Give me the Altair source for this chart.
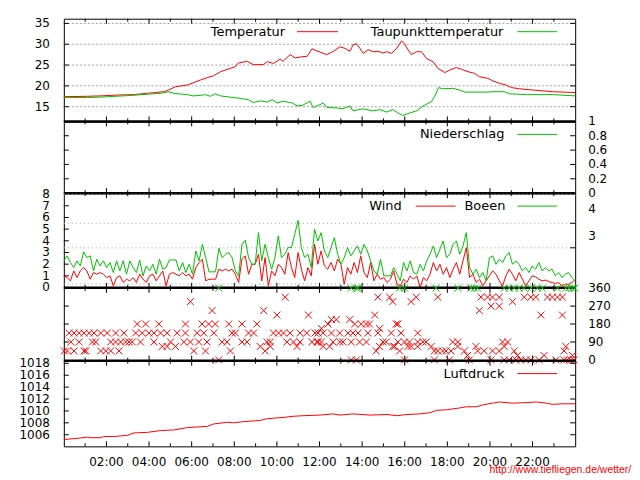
import altair as alt
import pandas as pd

# ---------------- data ----------------
temp_h = [0, 1.12, 1.73, 2.53, 3.28, 4.07, 4.68, 4.91, 5.24, 5.8, 6.41, 6.74, 7.02, 7.35, 7.81,
          8.05, 8.19, 8.61, 8.89, 9.36, 9.55, 9.83, 10.15, 10.29, 10.62, 10.86, 11.18, 11.42, 11.65,
          11.93, 12.34, 12.65, 12.96, 13.2, 13.43, 13.58, 13.74, 13.9, 14.05, 14.29, 14.52, 14.75,
          14.99, 15.15, 15.38, 15.62, 15.85, 16.0, 16.16, 16.32, 16.55, 16.79, 17.02, 17.33, 17.56,
          17.88, 18.11, 18.42, 18.66, 18.97, 19.28, 19.51, 19.9, 20.14, 20.45, 20.76, 21.0, 21.39,
          22.01, 22.94, 24.0]
temp_v = [17.4, 17.5, 17.6, 17.8, 17.9, 18.3, 18.6, 19.0, 19.8, 20.2, 21.4, 22.0, 22.4, 23.4, 24.2,
          24.6, 25.5, 25.9, 25.1, 25.1, 25.8, 25.4, 26.4, 25.9, 27.5, 26.7, 27.0, 27.1, 28.9,
          28.3, 27.5, 28.3, 29.4, 29.0, 28.3, 29.9, 30.1, 29.0, 27.8, 28.7, 28.2, 28.3,
          27.9, 28.2, 27.8, 29.0, 30.8, 30.1, 28.6, 27.5, 28.2, 28.2, 26.6, 25.8, 24.2,
          23.2, 23.8, 24.4, 24.0, 23.4, 23.0, 22.2, 21.8, 21.2, 20.6, 20.2, 19.6, 19.3,
          19.0, 18.6, 18.4]
dew_h = [0, 1.12, 1.73, 3.14, 3.92, 4.54, 4.93, 5.15, 5.79, 6.08, 6.41, 6.64, 6.88, 7.11, 7.35,
         7.95, 8.28, 8.66, 8.89, 9.22, 9.55, 9.78, 10.01, 10.29, 10.72, 10.95, 11.18, 11.42, 11.56,
         11.7, 11.93, 12.03, 12.17, 12.35, 12.82, 13.1, 13.43, 13.57, 14.04, 14.51, 14.83, 15.16,
         15.44, 15.68, 15.91, 16.24, 16.57, 16.85, 17.27, 17.41, 17.59, 17.78, 18.25, 18.58, 18.81,
         19.84, 20.12, 20.68, 20.92, 21.71, 22.93, 24.0]
dew_v = [17.2, 17.2, 17.3, 17.7, 18.0, 18.2, 18.6, 18.2, 17.9, 17.6, 17.7, 17.9, 17.5, 18.1, 17.6,
         17.2, 17.0, 16.7, 16.0, 16.4, 16.1, 16.7, 15.9, 16.3, 15.9, 15.2, 15.3, 15.9, 16.3,
         14.8, 15.3, 15.5, 15.9, 14.8, 14.7, 14.5, 15.2, 14.0, 14.5, 14.0, 14.3, 13.7,
         14.3, 13.5, 12.9, 13.5, 14.0, 15.1, 16.3, 17.5, 19.6, 19.3, 19.4, 19.0, 18.5,
         18.5, 18.6, 18.6, 18.1, 17.9, 17.9, 17.6]

# wind and gusts (m/s), regular samples over the day
wind_v = [1.0, 0.85, 0.57, 1.42, 0.85, 1.42, 1.71, 1.42, 0.71, 1.28,
          1.14, 1.28, 1.14, 0.85, 1.0, 0.14, 0.85, 1.0, 0.43, 0.71,
          0.57, 0.85, 0.43, 1.14, 0.71, 0.43, 1.0, 1.14, 0.57, 1.0,
          1.42, 0.14, 1.14, 1.28, 1.14, 1.0, 1.28, 1.0, 1.14, 0.71,
          1.71, 2.14, 2.42, 0.57, 0.71, 0.71, 0.71, 1.57, 1.42, 1.57,
          1.42, 1.57, 1.14, 0.43, 2.42, 2.71, 1.14, 1.99, 1.99, 2.85,
          0.57, 2.56, 0.14, 1.42, 1.0, 1.99, 1.71, 1.14, 2.99, 1.71,
          0.85, 2.99, 1.57, 0.57, 1.71, 1.0, 3.7, 1.99,
          3.13, 1.85, 1.57, 2.14, 1.42, 2.42, 1.99, 0.28, 1.71, 1.14,
          2.14, 1.28, 2.71, 1.28, 0.85, 2.14, 0.57, 1.14, 0.71, 0.85,
          0.43, 0.71, 1.42, 0.28, 0.14, 0.71, 0.43, 1.0, 0.71, 1.0,
          0.0, 0.85, 0.57, 1.14, 2.14, 1.42, 1.99, 1.14, 1.71, 0.85,
          1.57, 2.14, 1.14, 2.28, 3.42, 0.85, 1.14, 0.43, 0.71, 0.14,
          0.57, 1.0, 1.42, 1.14, 0.57, 0.14, 1.0, 1.57, 1.14, 0.57,
          1.28, 0.71, 0.14, 0.57, 1.0, 0.91, 0.71, 0.57, 0.63, 0.51,
          0.43, 0.34, 0.43, 0.14, 0.28, 0.28, 0.43, 0.63]
gust_v = [2.28, 2.71, 2.14, 1.71, 2.28, 1.85, 3.05, 2.56, 2.71, 1.42,
          2.42, 1.85, 2.28, 1.71, 2.14, 1.28, 2.28, 1.42, 2.28, 1.14,
          2.28, 1.71, 1.28, 2.34, 1.0, 1.85, 1.42, 1.99, 1.14, 2.42,
          1.57, 1.71, 2.36, 2.36, 2.36, 1.42, 2.14, 1.28, 1.99, 1.14,
          3.13, 2.28, 3.7, 2.56, 1.34, 1.34, 1.34, 3.36, 2.56, 2.85,
          2.99, 2.56, 1.42, 1.0, 3.7, 4.05, 2.56, 1.99, 1.99, 4.7,
          2.28, 3.7, 2.56, 1.57, 2.56, 4.42, 2.56, 2.85, 3.42, 3.42,
          4.56, 5.75, 3.42, 2.56, 2.85, 1.71, 4.99, 3.99,
          4.7, 3.13, 2.56, 3.42, 4.27, 2.85, 1.99, 2.56, 3.42, 2.71,
          3.13, 3.56, 2.85, 3.7, 3.13, 2.28, 1.42, 1.14, 2.42, 1.0,
          1.0, 1.0, 1.71, 1.14, 0.57, 2.14, 1.42, 2.28, 1.28, 1.14,
          1.99, 1.42, 2.28, 2.85, 3.56, 2.56, 3.28, 3.99, 2.56, 2.85,
          3.7, 3.99, 2.85, 3.56, 4.7, 1.71, 1.14, 1.57, 0.85, 1.28,
          0.57, 2.56, 2.71, 1.99, 2.42, 2.14, 2.71, 2.99, 1.99, 2.28,
          1.99, 1.42, 1.71, 1.28, 1.85, 1.57, 2.14, 1.42, 1.71, 1.42,
          1.57, 1.0, 1.28, 0.85, 1.14, 1.28, 0.85, 0.57]
wind_h = [round(i * 24 / (len(wind_v) - 1), 3) for i in range(len(wind_v))]

press_h = [0, 0.66, 1.12, 1.26, 1.73, 1.87, 2.34, 2.99, 3.28, 3.93, 4.54, 5.15, 5.8, 6.74, 7.02,
           7.67, 7.95, 8.42, 9.22, 9.55, 10.29, 10.76, 11.23, 12.03, 12.63, 12.96, 13.57, 14.37,
           15.16, 15.63, 16.1, 16.71, 17.18, 17.5, 17.97, 18.58, 18.9, 19.37, 19.65, 20.12, 20.45,
           21.06, 21.71, 22.18, 22.65, 22.93, 23.4, 24.0]
press_v = [1005.2, 1005.4, 1005.6, 1005.5, 1005.5, 1005.7, 1005.7, 1005.9, 1006.3, 1006.4, 1006.7,
           1006.8, 1007.2, 1007.4, 1007.8, 1008.1, 1008.0, 1008.2, 1008.4, 1008.7, 1008.9, 1009.1,
           1009.2, 1009.3, 1009.5, 1009.3, 1009.5, 1009.3, 1009.4, 1009.2, 1009.4, 1009.5, 1009.7,
           1010.1, 1010.2, 1010.5, 1010.7, 1010.7, 1011.0, 1011.3, 1011.5, 1011.3, 1011.4, 1011.5,
           1011.3, 1011.1, 1011.2, 1011.2]

# wind direction samples (hours) grouped by direction in degrees
dir_000 = [7.27, 13.49, 13.73, 15.99, 17.39, 18.1, 19.03, 20.05, 20.67, 20.9, 21.22, 21.45, 21.68,
           21.92, 22.31, 23.09, 23.48, 23.63, 23.79, 23.95]
dir_022 = [18.95, 21.29, 22.54, 23.87]
dir_045 = [0.02, 0.17, 0.48, 0.95, 1.03, 1.73, 1.97, 2.2, 2.59, 6.1, 6.65, 7.82, 9.45,
           14.66, 15.76, 17.39, 17.55, 17.78, 17.94, 18.17, 18.8, 19.42, 19.73, 20.12, 20.44,
           21.14, 23.48]
dir_067 = [4.62, 4.85, 5.24, 9.22, 9.69, 10.94, 12.17, 12.48, 14.82, 15.44, 15.52, 16.15, 16.3,
           16.61, 17.24, 18.49, 19.34, 20.67, 23.56]
dir_090 = [0.33, 0.72, 1.34, 1.5, 2.2, 2.43, 2.67, 2.9, 3.06, 3.21, 3.6, 4.23, 5.01, 5.63, 5.94,
           6.33, 6.72, 7.43, 7.66, 8.36, 8.6, 9.53, 9.69, 10.47, 10.78, 11.09, 11.64, 11.87,
           11.93, 12.09, 12.64, 12.95, 13.1, 13.49, 13.88, 14.2, 14.98, 15.13, 15.68, 15.99,
           16.22, 16.61, 16.85, 17.0, 18.25, 18.49, 20.59, 20.83]
dir_135 = [0.25, 0.48, 0.72, 0.95, 1.19, 1.42, 1.73, 2.04, 2.43, 2.82, 3.37, 3.68, 3.99, 4.23,
           4.54, 4.85, 5.32, 5.71, 6.26, 6.57, 7.04, 7.89, 8.05, 8.67, 8.91, 9.84, 10.08, 10.31,
           10.62, 11.09, 11.4, 11.79, 11.93, 12.17, 12.56, 12.95, 13.34, 13.57, 13.81, 14.27,
           14.74, 15.37, 15.83, 16.61]
dir_157 = [12.09, 14.82]
dir_180 = [3.45, 3.84, 4.46, 5.71, 6.49, 6.8, 7.11, 7.74, 8.36, 9.06, 12.4, 13.65, 13.96, 14.2,
           14.35, 15.6, 15.68]
dir_202 = [12.56, 12.79, 13.42]
dir_225 = [10.0, 11.48, 14.59, 22.39, 23.4]
dir_247 = [6.96, 9.38, 19.5]
dir_270 = [20.05, 20.44]
dir_292 = [5.94, 15.44, 16.3, 21.06]
dir_315 = [10.39, 14.74, 15.29, 16.54, 17.55, 19.58, 19.89, 20.12, 20.44, 21.61, 21.92, 22.15,
           22.7, 22.93, 23.17, 23.4]
gust_dir_360 = [7.27, 13.49, 13.73, 13.81, 15.76, 15.99, 17.47, 18.49, 19.11, 19.27, 19.42, 20.67,
                20.9, 21.14, 21.37, 21.61, 21.92, 22.23, 22.46, 23.17, 23.56, 23.71, 23.87, 23.98]

temp_ticks = [15, 20, 25, 30, 35]
rain_ticks = [0, 0.2, 0.4, 0.6, 0.8, 1]
wind_ticks = [0, 1, 2, 3, 4, 5, 6, 7, 8]
bft_limits = [0.3, 3.4, 5.5, 8.0]
bft_labels = ["3", "4"]
bft_label_pos = [4.45, 6.75]
dir_ticks = [0, 90, 180, 270, 360]
press_ticks = [1006, 1008, 1010, 1012, 1014, 1016, 1018]
time_hours = [2, 4, 6, 8, 10, 12, 14, 16, 18, 20, 22]
time_labels = ["02:00", "04:00", "06:00", "08:00", "10:00", "12:00", "14:00", "16:00",
               "18:00", "20:00", "22:00"]
legend_labels = ["Temperatur", "Taupunkttemperatur", "Niederschlag", "Wind", "Boeen", "Luftdruck"]
watermark = "http://www.tiefliegen.de/wetter/"

# ---------------- layout ----------------
W = 513
HT, HN, HW, HD, HP = 103, 72, 95, 73, 86
RED, GREEN = "#ff0000", "#00c000"
FONT = "DejaVu Sans"
FS = 12      # tick labels
FL = 13      # key labels
XS = alt.Scale(domain=[0, 24], nice=False, zero=False)
TS = alt.Scale(domain=[11.47, 36.13], nice=False, zero=False)
NS = alt.Scale(domain=[0, 1], nice=False, zero=False)
WS = alt.Scale(domain=[-0.03, 8.08], nice=False, zero=False)
DS = alt.Scale(domain=[-3.5, 361.5], nice=False, zero=False)
PS = alt.Scale(domain=[1004.05, 1018.45], nice=False, zero=False)
one = pd.DataFrame({"a": [0]})
major_h = [2, 4, 6, 8, 10, 12, 14, 16, 18, 20, 22]
minor_h = [1, 3, 5, 7, 9, 11, 13, 15, 17, 19, 21, 23]


def xenc():
    return alt.X("h:Q", scale=XS, axis=None, title=None)


def xticks(height):
    out = []
    for hrs, L in ((major_h, 5), (minor_h, 3)):
        df = pd.DataFrame({"h": hrs})
        out.append(alt.Chart(df).mark_rule(color="black", strokeWidth=1).encode(
            x=xenc(), y=alt.value(0), y2=alt.value(L)))
        out.append(alt.Chart(df).mark_rule(color="black", strokeWidth=1).encode(
            x=xenc(), y=alt.value(height - L), y2=alt.value(height)))
    return out


def yticks(vals, ys, left=True, right=True, L=5):
    df = pd.DataFrame({"v": vals})
    out = []
    if left:
        out.append(alt.Chart(df).mark_rule(color="black", strokeWidth=1).encode(
            y=alt.Y("v:Q", scale=ys, axis=None), x=alt.value(0), x2=alt.value(L)))
    if right:
        out.append(alt.Chart(df).mark_rule(color="black", strokeWidth=1).encode(
            y=alt.Y("v:Q", scale=ys, axis=None), x=alt.value(W - L), x2=alt.value(W)))
    return out


def ylabels(vals, ys, side):
    df = pd.DataFrame({"v": vals, "t": [f"{v:g}" for v in vals]})
    if side == "left":
        mk = alt.Chart(df).mark_text(align="right", baseline="middle", font=FONT, fontSize=FS,
                                     color="black")
        xpos = alt.value(-14)
    else:
        mk = alt.Chart(df).mark_text(align="left", baseline="middle", font=FONT, fontSize=FS,
                                     color="black")
        xpos = alt.value(W + 13)
    return mk.encode(text="t:N", y=alt.Y("v:Q", scale=ys, axis=None), x=xpos)


def legend(label, color, text_x, y, x1=455, x2=495):
    t = alt.Chart(pd.DataFrame({"t": [label]})).mark_text(
        align="right", baseline="middle", font=FONT, fontSize=FL, color="black").encode(
        text="t:N", x=alt.value(text_x), y=alt.value(y))
    l = alt.Chart(one).mark_rule(color=color, strokeWidth=1).encode(
        x=alt.value(x1), x2=alt.value(x2), y=alt.value(y))
    return [t, l]


def separator(height):
    return alt.Chart(one).mark_rule(color="black", strokeWidth=2.5).encode(
        x=alt.value(0), x2=alt.value(W), y=alt.value(height))


def line(h, v, ys, color):
    df = pd.DataFrame({"h": h, "v": v})
    return alt.Chart(df).mark_line(color=color, strokeWidth=1).encode(
        x=xenc(), y=alt.Y("v:Q", scale=ys, axis=None))


# Panel 1: temperature
grid_t = alt.Chart(pd.DataFrame({"v": temp_ticks})).mark_rule(
    color="#a0a0a0", strokeDash=[2, 2], strokeWidth=1).encode(
    y=alt.Y("v:Q", scale=TS, axis=None), x=alt.value(0), x2=alt.value(W))
p1 = alt.layer(
    grid_t, *xticks(HT), *yticks(temp_ticks, TS), ylabels(temp_ticks, TS, "left"),
    line(temp_h, temp_v, TS, RED), line(dew_h, dew_v, TS, GREEN),
    *legend(legend_labels[0], RED, 222, 13, 234, 275),
    *legend(legend_labels[1], GREEN, 441, 13),
    separator(HT),
).properties(width=W, height=HT)

# Panel 2: precipitation (none)
p2 = alt.layer(
    *xticks(HN), *yticks([0.2, 0.4, 0.6, 0.8], NS), ylabels(rain_ticks, NS, "right"),
    *legend(legend_labels[2], GREEN, 442, 13),
    separator(HN),
).properties(width=W, height=HN)

# Panel 3: wind
grid_w = alt.Chart(pd.DataFrame({"v": bft_limits})).mark_rule(
    color="#a0a0a0", strokeDash=[1, 3], strokeWidth=1).encode(
    y=alt.Y("v:Q", scale=WS, axis=None), x=alt.value(0), x2=alt.value(W))
bft_text = alt.Chart(pd.DataFrame({"t": bft_labels, "v": bft_label_pos})).mark_text(
    align="left", baseline="middle", font=FONT, fontSize=FS, color="black").encode(
    text="t:N", y=alt.Y("v:Q", scale=WS, axis=None), x=alt.value(W + 13))
p3 = alt.layer(
    grid_w, *xticks(HW), *yticks(wind_ticks[1:-1], WS, right=False),
    *yticks([3.4, 5.5], WS, left=False), ylabels(wind_ticks, WS, "left"), bft_text,
    line(wind_h, wind_v, WS, RED), line(wind_h, gust_v, WS, GREEN),
    *legend(legend_labels[3], RED, 339, 13, 353, 393),
    *legend(legend_labels[4], GREEN, 443, 13),
    separator(HW),
).properties(width=W, height=HW)

# Panel 4: wind direction
groups = [(0, dir_000), (22.5, dir_022), (45, dir_045), (67.5, dir_067), (90, dir_090),
          (135, dir_135), (157.5, dir_157), (180, dir_180), (202.5, dir_202), (225, dir_225),
          (247.5, dir_247), (270, dir_270), (292.5, dir_292), (315, dir_315)]
rows = [{"h": h, "v": d} for d, hs in groups for h in hs]
dir_df = pd.DataFrame(rows)
gdir_df = pd.DataFrame({"h": gust_dir_360, "v": [360] * len(gust_dir_360)})
XSHAPE = "M-1,-1L1,1M1,-1L-1,1"
pts_r = alt.Chart(dir_df).mark_point(shape=XSHAPE, filled=False, size=48, strokeWidth=1,
                                     color=RED, opacity=1).encode(
    x=xenc(), y=alt.Y("v:Q", scale=DS, axis=None))
pts_g = alt.Chart(gdir_df).mark_point(shape=XSHAPE, filled=False, size=48, strokeWidth=1,
                                      color=GREEN, opacity=1).encode(
    x=xenc(), y=alt.Y("v:Q", scale=DS, axis=None))
p4 = alt.layer(
    *xticks(HD), *yticks([90, 180, 270], DS), ylabels(dir_ticks, DS, "right"),
    pts_r, pts_g,
    separator(HD),
).properties(width=W, height=HD)

# Panel 5: pressure
press_df = pd.DataFrame({"h": press_h, "v": press_v})
press_line = alt.Chart(press_df).mark_line(color=RED, strokeWidth=1).encode(
    x=xenc(), y=alt.Y("v:Q", scale=PS, axis=None))
xlabels = alt.Chart(pd.DataFrame({"h": time_hours, "t": time_labels})).mark_text(
    align="center", baseline="middle", font=FONT, fontSize=FS, color="black").encode(
    text="t:N", x=xenc(), y=alt.value(HP + 16))
wm = alt.Chart(pd.DataFrame({"t": [watermark]})).mark_text(
    align="left", baseline="middle", font="Liberation Sans", fontSize=10.5, color=RED).encode(
    text="t:N", x=alt.value(427), y=alt.value(110))
p5 = alt.layer(
    *xticks(HP), *yticks(press_ticks, PS), ylabels(press_ticks, PS, "left"),
    press_line, xlabels,
    *legend(legend_labels[5], RED, 442, 13),
    wm,
).properties(width=W, height=HP)

chart = alt.vconcat(p1, p2, p3, p4, p5, spacing=0, bounds="flush").properties(
    padding={"left": 10, "top": 8, "right": 0, "bottom": 0},
    background="white",
).configure_view(stroke="black", strokeWidth=1)

chart.save("out.html", embed_options={"renderer": "svg", "actions": False})
